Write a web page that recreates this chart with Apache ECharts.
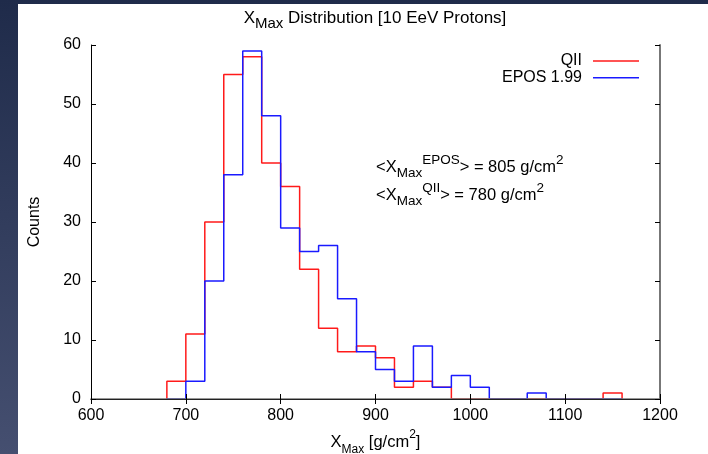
<!DOCTYPE html>
<html>
<head>
<meta charset="utf-8">
<script src="https://cdn.jsdelivr.net/npm/echarts@6/dist/echarts.min.js"></script>
<style>html,body{margin:0;padding:0;}#c{width:708px;height:454px;}</style>
</head>
<body>
<div id="c"></div>
<script>
// Histogram bins: lower edges (g/cm^2), bin width 20, last upper edge
const binLower = [680,700,720,740,760,780,800,820,840,860,880,900,920,940,960,980,1000,1020,1040,1060,1080,1100,1120,1140];
const binUpperEdge = 1160;
const qiiCounts  = [3,11,30,55,58,40,36,22,12,8,9,7,2,3,2,0,0,0,0,0,0,0,0,1];
const eposCounts = [0,3,20,38,59,48,29,25,26,17,8,5,3,9,2,4,2,0,0,1,0,0,0,0];
const seriesNames = ['QII', 'EPOS 1.99'];
const meanEpos = 805;
const meanQii = 780;

const FONT = 'Liberation Sans, Arial, Helvetica, sans-serif';

function stepData(counts) {
  const d = [[binLower[0], 0]];
  counts.forEach((c, i) => d.push([binLower[i], c]));
  d.push([binUpperEdge, 0]);
  return d;
}

function tok(size, lh, va) {
  const s = { fontSize: size, fontFamily: FONT, fontWeight: 'normal', color: '#000', lineHeight: lh };
  if (va) s.verticalAlign = va;
  return s;
}

const richTitle = { m: tok(17, 26), sub: tok(15, 15, 'bottom') };
const richNote  = { m: tok(16.5, 27), sub: tok(13.5, 14, 'bottom'), sup: tok(13.5, 11, 'top') };
const richXName = { m: tok(16.5, 27), sub: tok(12, 10, 'bottom'), sup: tok(12, 11, 'top') };

const chart = echarts.init(document.getElementById('c'), null, { renderer: 'canvas' });

const axisCommon = {
  type: 'value',
  splitLine: { show: false },
  axisTick: { show: true, inside: true, length: 5, lineStyle: { color: '#000', width: 1 } },
  axisLabel: { show: false },
  axisLine: { show: true, lineStyle: { color: '#222', width: 1 } }
};

chart.setOption({
  animation: false,
  backgroundColor: {
    type: 'linear', x: 0, y: 0, x2: 0, y2: 1,
    colorStops: [{ offset: 0, color: '#1f2b4a' }, { offset: 1, color: '#454f70' }]
  },
  graphic: [
    { type: 'rect', z: -100, silent: true, shape: { x: 18, y: 4, width: 690, height: 450 }, style: { fill: '#ffffff' } },
    { type: 'text', silent: true, x: 376, y: 167,
      style: { text: '{m|<X}{sub|Max}{sup|EPOS}{m|> = ' + meanEpos + ' g/cm}{sup|2}', rich: richNote, verticalAlign: 'middle', align: 'left' } },
    { type: 'text', silent: true, x: 376, y: 195,
      style: { text: '{m|<X}{sub|Max}{sup|QII}{m|> = ' + meanQii + ' g/cm}{sup|2}', rich: richNote, verticalAlign: 'middle', align: 'left' } }
  ],
  title: {
    text: '{m|X}{sub|Max}{m| Distribution [10 EeV Protons]}',
    left: 375, top: 5, textAlign: 'center', padding: 0,
    textStyle: { fontWeight: 'normal', fontSize: 17, fontFamily: FONT, color: '#000', rich: richTitle }
  },
  legend: {
    data: seriesNames,
    orient: 'vertical',
    right: 69, top: 53,
    align: 'right',
    icon: 'rect',
    itemWidth: 46, itemHeight: 1.5, itemGap: 0.7,
    padding: 0,
    textStyle: { fontSize: 16, fontFamily: FONT, color: '#000', lineHeight: 16, padding: [0, 6, 0, 0] }
  },
  grid: { left: 91, right: 48, top: 45, bottom: 55, containLabel: false, outerBoundsMode: 'none' },
  xAxis: [
    Object.assign({}, axisCommon, {
      position: 'bottom', min: 600, max: 1200, interval: 100, z: 5,
      axisLine: { show: true, lineStyle: { color: '#777', width: 1.5 } },
      axisLabel: { show: true, fontSize: 16, fontFamily: FONT, color: '#000', margin: 9, formatter: v => String(v) },
      name: '{m|X}{sub|Max}{m| [g/cm}{sup|2}{m|]}',
      nameLocation: 'middle', nameGap: 23.5,
      nameTextStyle: { rich: richXName }
    }),
    Object.assign({}, axisCommon, {
      position: 'top', min: 600, max: 1200, interval: 100, z: 5
    })
  ],
  yAxis: [
    Object.assign({}, axisCommon, {
      position: 'left', min: 0, max: 60, interval: 10, z: 5,
      axisLine: { show: true, lineStyle: { color: '#000', width: 1 } },
      axisLabel: { show: true, fontSize: 16, fontFamily: FONT, color: '#000', margin: 10 },
      name: 'Counts', nameLocation: 'middle', nameRotate: 90, nameGap: 48,
      nameTextStyle: { fontSize: 16, fontFamily: FONT, color: '#000' }
    }),
    Object.assign({}, axisCommon, {
      position: 'right', min: 0, max: 60, interval: 10, z: 5,
      axisLine: { show: true, lineStyle: { color: '#777', width: 2 } }
    })
  ],
  series: [
    { name: seriesNames[0], type: 'line', step: 'end', symbol: 'none', showSymbol: false,
      data: stepData(qiiCounts), xAxisIndex: 0, yAxisIndex: 0,
      lineStyle: { color: '#ff1a1a', width: 1.5 }, itemStyle: { color: '#ff1a1a' } },
    { name: seriesNames[1], type: 'line', step: 'end', symbol: 'none', showSymbol: false,
      data: stepData(eposCounts), xAxisIndex: 0, yAxisIndex: 0,
      lineStyle: { color: '#1a1aff', width: 1.5 }, itemStyle: { color: '#1a1aff' } }
  ]
});
</script>
</body>
</html>
